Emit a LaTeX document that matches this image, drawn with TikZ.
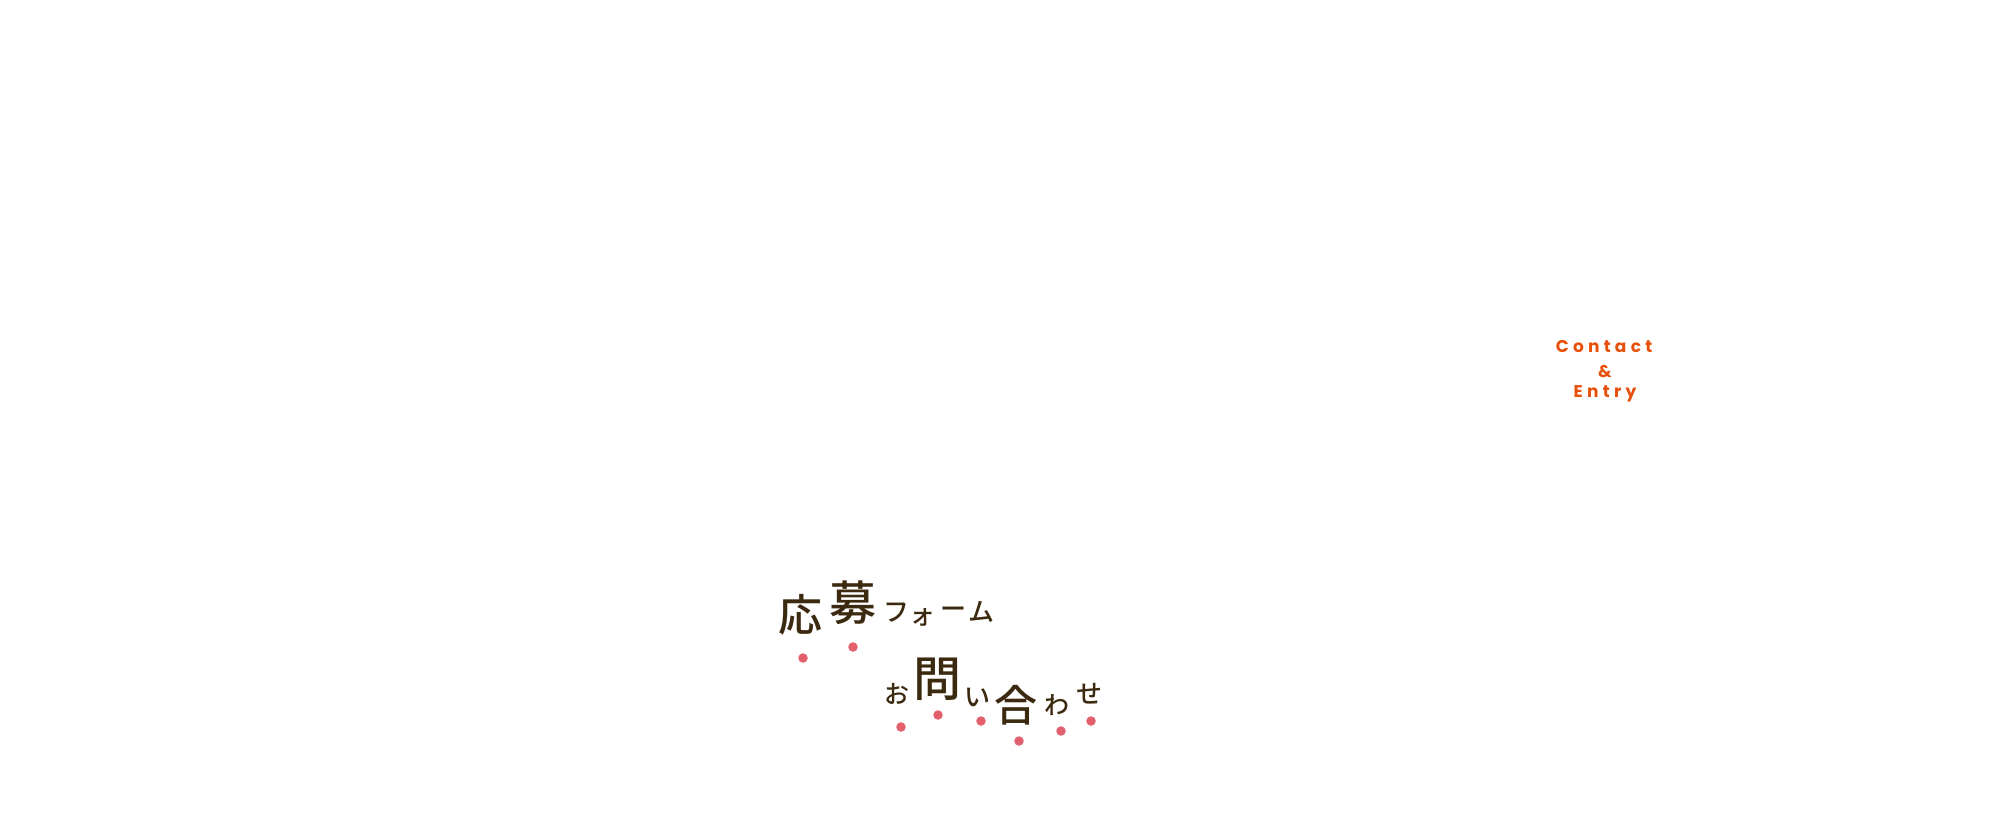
\documentclass[tikz,border=0pt]{standalone}
\usepackage{fontspec}
\newfontfamily\jpfont{Noto Sans CJK JP}[UprightFont=* Medium]
\newfontfamily\enfont[LetterSpace=25]{Poppins}
\definecolor{inkbrown}{RGB}{60,42,16}
\definecolor{dotpink}{RGB}{227,95,110}
\definecolor{entryorange}{RGB}{230,80,10}

\begin{document}
\begin{tikzpicture}[x=1pt,y=-1pt,
                    jpchar/.style={inner sep=0pt,text=inkbrown,
                      font=\jpfont\fontsize{#1}{#1}\selectfont},
                    pinkdot/.style={circle,fill=dotpink,inner sep=0pt,
                      minimum size=9.5pt},
                    entry/.style={inner sep=0pt,anchor=base,text=entryorange,
                      font=\enfont\bfseries\fontsize{17}{17}\selectfont}]

  \useasboundingbox (0,0) rectangle (2000,820);

  % Contact & Entry
  \node[entry] (contact) at (1604,352) {Contact};
  \node[entry] (amp)     at (1605,377) {\&};
  \node[entry] (entryw)  at (1605,397) {Entry};

  % 応募フォーム
  \node[jpchar=44] (ou)  at (800,615) {応};
  \node[jpchar=47] (bo)  at (853,603) {募};
  \node[jpchar=26] (fu)  at (896,613) {フ};
  \node[jpchar=26] (o)   at (922,617) {ォ};
  \node[jpchar=26] (bar) at (953,613) {ー};
  \node[jpchar=26] (mu)  at (981,612) {ム};

  \node[pinkdot] (d1) at (803,658) {};
  \node[pinkdot] (d2) at (853,647) {};

  % お問い合わせ
  \node[jpchar=25] (oo)  at (897,694) {お};
  \node[jpchar=48] (toi) at (937,679) {問};
  \node[jpchar=26] (i)   at (977,697) {い};
  \node[jpchar=43] (ai)  at (1016,705) {合};
  \node[jpchar=25] (wa)  at (1057,705) {わ};
  \node[jpchar=26] (se)  at (1089,694) {せ};

  \node[pinkdot] (d3) at (901,727) {};
  \node[pinkdot] (d4) at (938,715) {};
  \node[pinkdot] (d5) at (981,721) {};
  \node[pinkdot] (d6) at (1019,741) {};
  \node[pinkdot] (d7) at (1061,731) {};
  \node[pinkdot] (d8) at (1091,721) {};
\end{tikzpicture}
\end{document}
